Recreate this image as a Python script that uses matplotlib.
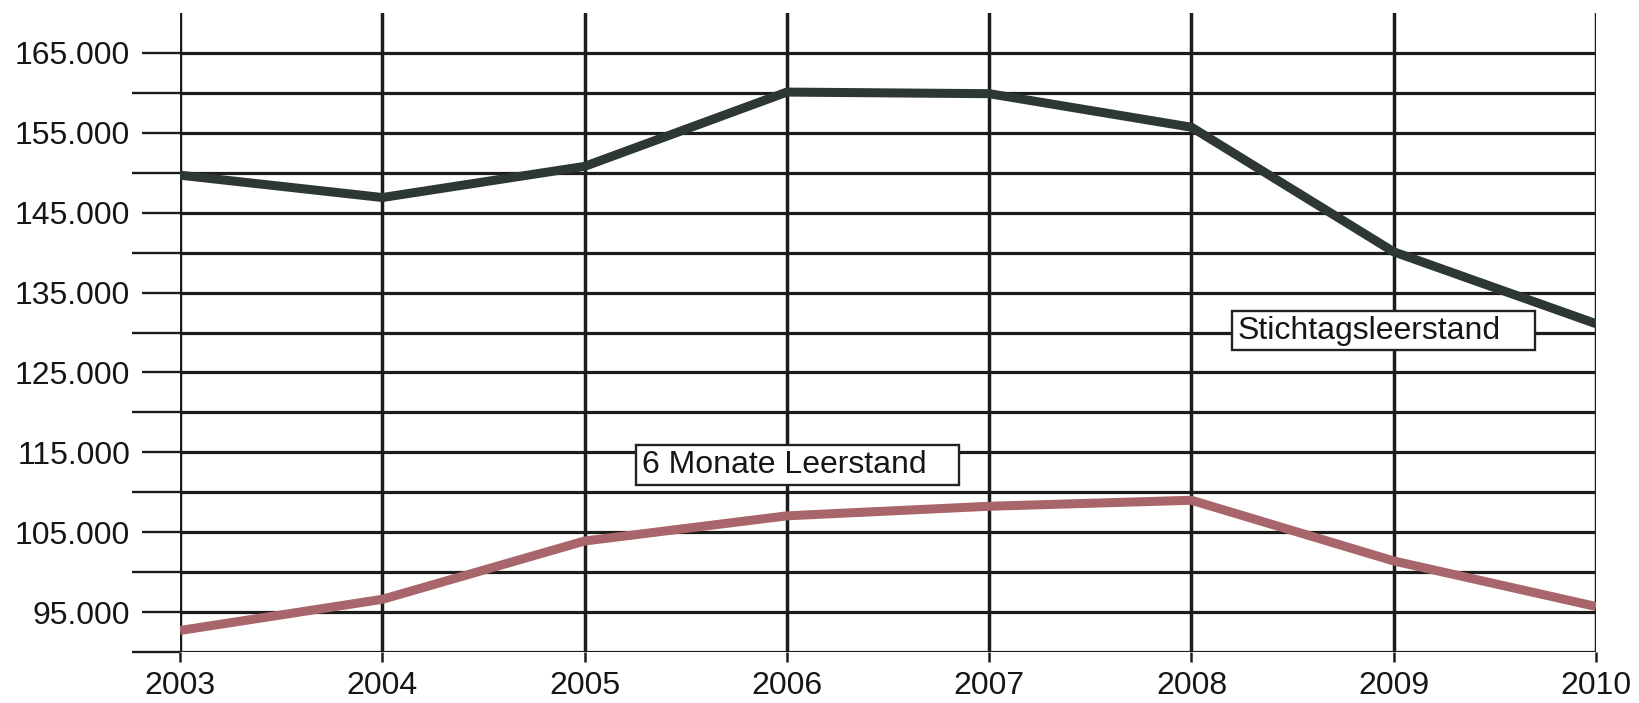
import numpy as np
import matplotlib.pyplot as plt
from matplotlib.patches import Rectangle
from matplotlib.ticker import MultipleLocator, FuncFormatter

plt.rcParams['font.family'] = ['Liberation Sans', 'DejaVu Sans']

jahre = [2003, 2004, 2005, 2006, 2007, 2008, 2009, 2010]
stichtag = [149700, 146900, 150800, 160100, 159900, 155700, 140100, 131100]
sechs_monate = [92700, 96600, 103900, 107050, 108250, 109000, 101400, 95700]

fig = plt.figure(figsize=(16.4, 7.03), dpi=100)
ax = fig.add_axes([0.1098, 0.0725, 0.8634, 0.909])

grid_col = '#1c1c1c'
text_col = '#161616'

# horizontal lines every 5.000, vertical lines per year
for y in range(90000, 170000, 5000):
    ax.axhline(y, color=grid_col, lw=2.3, zorder=1)
for x in jahre:
    ax.axvline(x, color=grid_col, lw=2.5, zorder=1)

ax.plot(jahre, stichtag, color='#2d3833', lw=6.5, solid_joinstyle='round',
        solid_capstyle='butt', zorder=3)
ax.plot(jahre, sechs_monate, color='#a9666a', lw=6.5, solid_joinstyle='round',
        solid_capstyle='butt', zorder=3)

ax.set_xlim(2003, 2010)
ax.set_ylim(90000, 170000)
for s in ax.spines.values():
    s.set_visible(False)

ax.set_xticks(jahre)
ax.set_yticks(range(95000, 170000, 10000))
ax.set_yticks(range(90000, 170000, 10000), minor=True)
ax.yaxis.set_major_formatter(FuncFormatter(lambda v, p: f'{int(v):,}'.replace(',', '.')))

ax.tick_params(axis='y', which='major', length=27.5, width=1.7, color=grid_col,
               pad=8.5, labelsize=23, labelcolor=text_col)
ax.tick_params(axis='y', which='minor', length=34.5, width=1.7, color=grid_col)
ax.tick_params(axis='x', length=7.5, width=1.8, color=grid_col, pad=6,
               labelsize=23, labelcolor=text_col)

# annotation boxes
def beschriftung(x0, x1, y0, y1, text):
    ax.add_patch(Rectangle((x0, y0), x1 - x0, y1 - y0, facecolor='white',
                           edgecolor='#222222', lw=1.7, zorder=4))
    ax.text(x0 + 0.03, (y0 + y1) / 2, text, fontsize=23, color=text_col,
            ha='left', va='center', zorder=5)

beschriftung(2008.2, 2009.70, 127750, 132750, 'Stichtagsleerstand')
beschriftung(2005.254, 2006.85, 110875, 115875, '6 Monate Leerstand')

fig.savefig('out.png', dpi=100, facecolor='white')
